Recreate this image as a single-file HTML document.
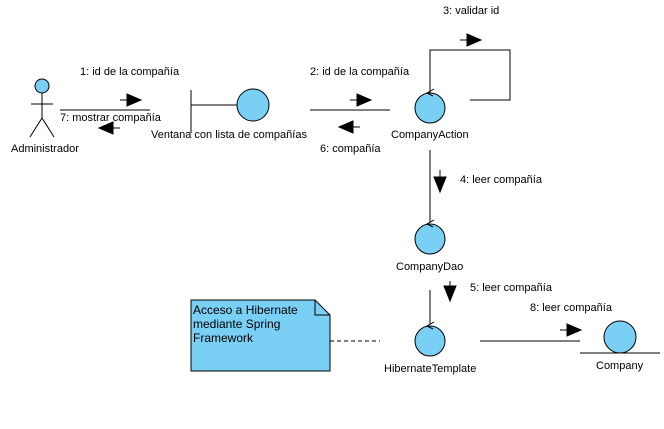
<!DOCTYPE html>
<html><head><meta charset="utf-8"><style>
body{margin:0;background:#fff;}
svg text{font-family:"Liberation Sans",sans-serif;font-size:11px;fill:#000;}
</style></head><body>
<svg width="664" height="424" viewBox="0 0 664 424" xmlns="http://www.w3.org/2000/svg">
<g stroke="#000" stroke-width="1" fill="none">
<circle cx="42" cy="86" r="7" fill="#7ACFF5"/>
<line x1="42" y1="93" x2="42" y2="118"/>
<line x1="31" y1="104" x2="53" y2="104"/>
<line x1="42" y1="118" x2="30" y2="137"/>
<line x1="42" y1="118" x2="54" y2="137"/>
<line x1="60" y1="110" x2="150" y2="110"/>
<line x1="191" y1="90" x2="191" y2="133"/>
<line x1="191" y1="105" x2="237" y2="105"/>
<circle cx="253" cy="105" r="16" fill="#7ACFF5"/>
<line x1="310" y1="110" x2="390" y2="110"/>
<circle cx="430" cy="108" r="15" fill="#7ACFF5"/>
<polyline points="430,93 430,50 510,50 510,100 470,100"/>
<polyline points="434,89 427,93 433,96"/>
<line x1="430" y1="150" x2="430" y2="222"/>
<circle cx="430" cy="239" r="15" fill="#7ACFF5"/>
<polyline points="434,220 427,224 433,227"/>
<line x1="430" y1="290" x2="430" y2="324"/>
<circle cx="430" cy="341" r="15" fill="#7ACFF5"/>
<polyline points="434,322 427,326 433,329"/>
<line x1="330" y1="341" x2="380" y2="341" stroke-dasharray="4,3"/>
<path d="M191,300 L315,300 L330,315 L330,371 L191,371 Z" fill="#7ACFF5"/>
<polyline points="315,300 315,315 330,315"/>
<line x1="480" y1="341" x2="580" y2="341"/>
<circle cx="620" cy="337" r="16" fill="#7ACFF5"/>
<line x1="580" y1="353" x2="660" y2="353"/>
</g>
<g fill="#000" stroke="#000">
<line x1="120" y1="100" x2="128" y2="100"/><polygon points="127,94 141,100 127,106"/>
<line x1="111" y1="128" x2="120" y2="128"/><polygon points="113,122 99,128 113,134"/>
<line x1="350" y1="100" x2="358" y2="100"/><polygon points="357,94 371,100 357,106"/>
<line x1="352" y1="127" x2="360" y2="127"/><polygon points="353,121 339,127 353,133"/>
<line x1="460" y1="40" x2="468" y2="40"/><polygon points="467,34 481,40 467,46"/>
<line x1="440" y1="170" x2="440" y2="178"/><polygon points="434,177 440,192 446,177"/>
<line x1="450" y1="281" x2="450" y2="287"/><polygon points="444,286 450,301 456,286"/>
<line x1="560" y1="330" x2="568" y2="330"/><polygon points="567,324 581,330 567,336"/>
</g>
<text x="80" y="75">1: id de la compañía</text>
<text x="60" y="121">7: mostrar compañía</text>
<text x="11" y="152">Administrador</text>
<text x="151" y="138">Ventana con lista de compañías</text>
<text x="310" y="75">2: id de la compañía</text>
<text x="443" y="14">3: validar id</text>
<text x="391" y="138">CompanyAction</text>
<text x="320" y="152">6: compañía</text>
<text x="460" y="183">4: leer compañía</text>
<text x="396" y="270">CompanyDao</text>
<text x="470" y="291">5: leer compañía</text>
<text x="530" y="311">8: leer compañía</text>
<text x="384" y="372">HibernateTemplate</text>
<text x="596" y="369">Company</text>
<text x="193" y="314" style="font-size:12px">Acceso a Hibernate</text>
<text x="193" y="328" style="font-size:12px">mediante Spring</text>
<text x="193" y="342" style="font-size:12px">Framework</text>
</svg>
</body></html>
